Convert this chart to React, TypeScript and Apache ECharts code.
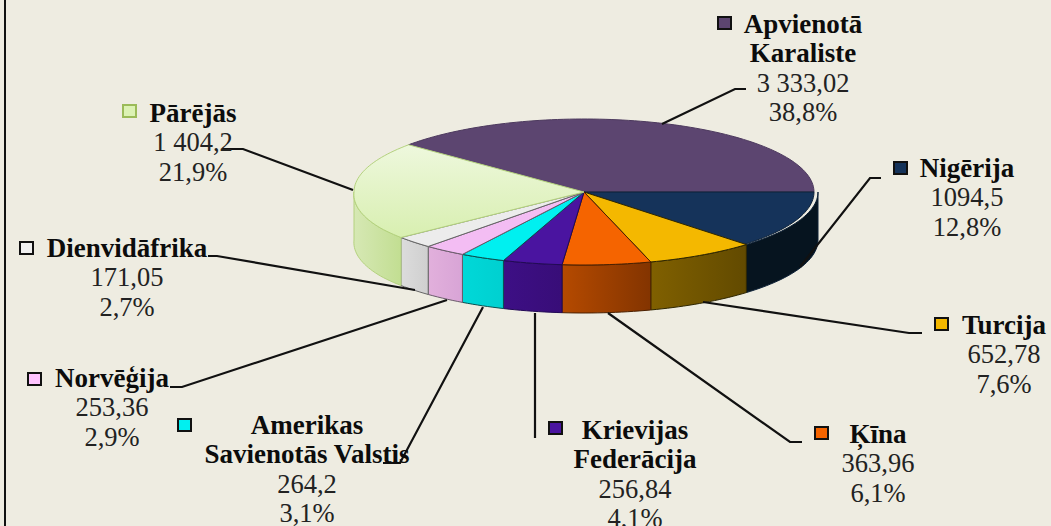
import React, { useEffect, useRef } from "react";
import * as echarts from "echarts";

const nameLines = [
  ["Apvienotā", "Karaliste"],
  ["Nigērija"],
  ["Turcija"],
  ["Ķīna"],
  ["Krievijas", "Federācija"],
  ["Amerikas", "Savienotās Valstis"],
  ["Norvēģija"],
  ["Dienvidāfrika"],
  ["Pārējās"],
];
const valueLabels = ["3 333,02", "1094,5", "652,78", "363,96", "256,84", "264,2", "253,36", "171,05", "1 404,2"];
const percentLabels = ["38,8%", "12,8%", "7,6%", "6,1%", "4,1%", "3,1%", "2,9%", "2,7%", "21,9%"];
const shares = [38.8, 12.8, 7.6, 6.1, 4.1, 3.1, 2.9, 2.7, 21.9];

const topColors = ["#5c4570", "#15335a", "#f4b800", "#f56400", "#4a14a0", "#00f0f0", "#f3bdf3", "#ececec", ["#eef8dd", "#d8efb0"]];
const wallColors = ["#3c2d4a", ["#06141f", "#06141f"], ["#806000", "#624a00"], ["#b54a00", "#833400"], ["#3d0f85", "#380d78"], ["#00d8d8", "#00d0d0"], ["#e2b0dc", "#d8a4d6"], ["#dcdcdc", "#cfcfcf"], ["#d6e8b4", "#c2de92"]];
const edgeColors = ["#4d3a5e", "#0e2238", "#2e2600", "#4a2000", "#220a55", "#0a5050", "#6a5a6a", "#666666", "#b4d27e"];
const markerFill = ["#5c4570", "#15335a", "#f4b800", "#f56400", "#4a14a0", "#00f0f0", "#ffc4ff", "#f0f0f0", "#dcf2b4"];
const markerEdge = ["#111", "#111", "#111", "#111", "#111", "#111", "#111", "#111", "#9bbb59"];

const CX = 584, CY = 192, RX = 230, RY = 73, DEPTH = 48, FRONT_EXTRA = 4;
const START_DEG = 139.7;
const BG = "#eeece1";

const textCenter = [803, 967, 1004, 878, 635, 307, 112, 127, 193];
const firstLineY = [24, 168, 325, 434, 430, 425, 378, 248, 113];
const LINE_H = 29.3;
const markerPos = [[717, 16], [893, 161], [934, 317], [814, 426], [548, 421], [177, 418], [27, 372], [19, 241], [122, 104]];
const leaders = [
  [[662, 124], [735, 89], [746, 89]],
  [[800, 267], [870, 178], [881, 178]],
  [[703, 302], [909, 333], [922, 333]],
  [[608, 313], [790, 442], [802, 442]],
  [[535, 313], [535, 438]],
  [[483, 307], [400, 463], [383, 463]],
  [[447, 300], [182, 387], [170, 387]],
  [[415, 290], [217, 256], [208, 256]],
  [[353, 190], [243, 149], [222, 149]],
];

function radiusX(deg: number) {
  if (deg >= 0 || deg <= -180) return RX;
  if (deg > -150) return RX + FRONT_EXTRA;
  return RX + (FRONT_EXTRA * (deg + 180)) / 30;
}
function arcPoints(a0: number, a1: number, dy: number) {
  const pts: number[][] = [];
  const n = Math.max(2, Math.ceil(Math.abs(a1 - a0) / 1.5));
  for (let i = 0; i <= n; i++) {
    const d = a0 + ((a1 - a0) * i) / n;
    const a = (d * Math.PI) / 180;
    const frontSide = d <= 0 && a0 <= 0 && a1 <= 0;
    const r = frontSide ? radiusX(d === 0 ? -0.001 : d) : RX;
    pts.push([CX + r * Math.cos(a), CY - RY * Math.sin(a) + dy]);
  }
  return pts;
}
function paint(c: any, horizontal: boolean) {
  if (!Array.isArray(c)) return c;
  return {
    type: "linear", x: 0, y: 0, x2: horizontal ? 1 : 0, y2: horizontal ? 0 : 1,
    colorStops: [{ offset: 0, color: c[0] }, { offset: 1, color: c[1] }],
  };
}
const total = shares.reduce((s, v) => s + v, 0);
function sliceRange(idx: number) {
  let before = 0;
  for (let i = 0; i < idx; i++) before += shares[i];
  return [START_DEG - (before / total) * 360, START_DEG - ((before + shares[idx]) / total) * 360];
}

export default function App() {
  const ref = useRef<HTMLDivElement>(null);
  useEffect(() => {
    document.body.style.margin = "0";
    document.body.style.background = BG;
    const chart = echarts.init(ref.current!, null, { renderer: "svg" });
    const graphic: any[] = [];
    graphic.push({ type: "line", z: 5, shape: { x1: 5, y1: 0, x2: 5, y2: 526 }, style: { stroke: "#111", lineWidth: 2 } });
    leaders.forEach((pts) => {
      graphic.push({ type: "polyline", z: 20, shape: { points: pts }, style: { stroke: "#111", lineWidth: 2.2, fill: "none" } });
    });
    nameLines.forEach((names, i) => {
      const lines = [...names.map((t) => ({ t, b: true })), { t: valueLabels[i], b: false }, { t: percentLabels[i], b: false }];
      lines.forEach((l, k) => {
        graphic.push({
          type: "text", z: 21, x: textCenter[i], y: firstLineY[i] + k * LINE_H,
          style: { text: l.t, fill: l.b ? "#0c0c0c" : "#222", font: `${l.b ? "bold 27px" : "26.5px"} "Liberation Serif"`, align: "center", verticalAlign: "middle" },
        });
      });
      graphic.push({
        type: "rect", z: 21, shape: { x: markerPos[i][0] + 1, y: markerPos[i][1] + 1, width: 13, height: 12 },
        style: { fill: markerFill[i], stroke: markerEdge[i], lineWidth: 2 },
      });
    });

    const wallSeries = {
      type: "custom", coordinateSystem: "none", silent: true, z: 2,
      data: shares.map((v, i) => [i, v]),
      renderItem: (_: any, api: any) => {
        const i = api.value(0);
        const [a0, a1] = sliceRange(i);
        const hi = Math.min(a0, 0), lo = Math.max(a1, -180);
        if (hi <= lo) return { type: "group", children: [] };
        const p = [...arcPoints(hi, lo, 0), ...arcPoints(lo, hi, DEPTH)];
        return { type: "polygon", shape: { points: p }, style: { fill: paint(wallColors[i], true), stroke: edgeColors[i], lineWidth: 1 } };
      },
    };
    const topSeries = {
      type: "custom", coordinateSystem: "none", silent: true, z: 3,
      data: shares.map((v, i) => [i, v]),
      renderItem: (_: any, api: any) => {
        const i = api.value(0);
        const [a0, a1] = sliceRange(i);
        const p = [[CX, CY], ...arcPoints(a0, a1, 0)];
        return { type: "polygon", shape: { points: p }, style: { fill: paint(topColors[i], false), stroke: edgeColors[i], lineWidth: 1 } };
      },
    };
    chart.setOption({ animation: false, backgroundColor: BG, graphic, series: [wallSeries, topSeries] });
    return () => chart.dispose();
  }, []);
  return <div ref={ref} style={{ width: 1051, height: 526 }} />;
}
